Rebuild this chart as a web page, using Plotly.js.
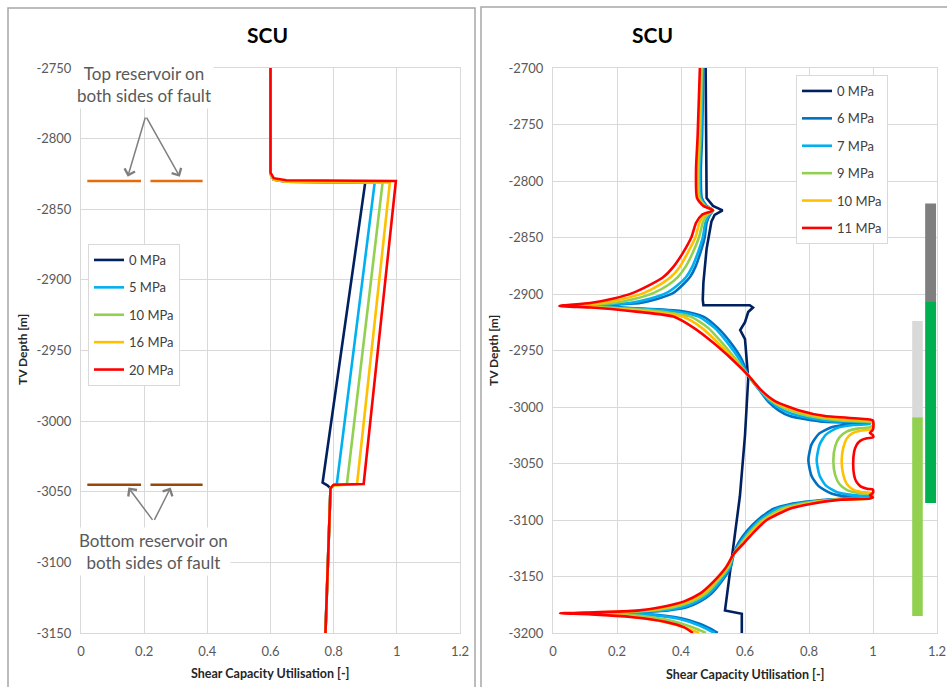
<!DOCTYPE html>
<html>
<head>
<meta charset="utf-8">
<script src="https://cdn.plot.ly/plotly-3.0.1.min.js"></script>
<style>
html,body{margin:0;padding:0;background:#fff;}
#chart{width:947px;height:687px;}
</style>
</head>
<body>
<div id="chart"></div>
<script>
// ---------- LEFT PANEL DATA (x = shear capacity utilisation, d = TV depth) ----------
const leftNames = ['0 MPa', '5 MPa', '10 MPa', '16 MPa', '20 MPa'];
const leftColors = ['#002060', '#00b0f0', '#92d050', '#ffc000', '#ff0000'];
const L0x = [0.6, 0.6, 0.61, 0.65, 0.90, 0.765, 0.78, 0.79, 0.774];
const L0d = [-2750, -2825, -2829, -2830.5, -2831, -3043.5, -3045.5, -3047.5, -3150];
const L5x = [0.6, 0.6, 0.61, 0.65, 0.93, 0.81, 0.80, 0.79, 0.774];
const L5d = [-2750, -2825, -2829, -2830.5, -2831, -3044.5, -3045.5, -3047.5, -3150];
const L10x = [0.6, 0.6, 0.61, 0.65, 0.955, 0.842, 0.80, 0.79, 0.774];
const L10d = [-2750, -2825, -2829, -2830.5, -2831, -3044.5, -3045.5, -3047.5, -3150];
const L16x = [0.6, 0.6, 0.61, 0.65, 0.978, 0.874, 0.80, 0.79, 0.774];
const L16d = [-2750, -2825, -2829, -2830.5, -2831, -3044.5, -3045.5, -3047.5, -3150];
const L20x = [0.6, 0.6, 0.61, 0.65, 0.997, 0.895, 0.80, 0.79, 0.774];
const L20d = [-2750, -2824, -2828, -2829.5, -2830, -3044.5, -3045, -3047.5, -3150];

// reservoir markers (left panel)
const resX = [0.02, 0.19, null, 0.22, 0.385];
const resTopD = [-2830, -2830, null, -2830, -2830];
const resBotD = [-3045, -3045, null, -3045, -3045];

// ---------- RIGHT PANEL DATA ----------
const rightNames = ['0 MPa', '6 MPa', '7 MPa', '9 MPa', '10 MPa', '11 MPa'];
const rightColors = ['#002060', '#0070c0', '#00b0f0', '#92d050', '#ffc000', '#ff0000'];

const R0x = [0.477,0.478,0.480,0.50,0.53,0.505,0.495,0.48,0.47,0.468,0.47,0.615,0.625,0.61,0.60,0.585,0.60,0.61,0.60,0.584,0.56,0.5375,0.59,0.59];
const R0d = [-2700,-2780,-2815,-2822,-2826,-2830,-2836,-2860,-2890,-2905,-2910,-2910,-2912,-2916,-2925,-2932,-2940,-2975,-3025,-3079,-3130,-3180,-3183,-3200];

const R6x = [0.470,0.466,0.462,0.465,0.48,0.50,
  0.49,0.48,0.474,0.46,0.445,0.428,0.405,0.376,0.33,0.272,0.15,
  0.22,0.40,0.47,0.515,0.555,0.59,0.61,0.645,0.672,0.705,0.74,0.845,0.99,
  0.93,0.87,0.83,0.808,0.798,0.808,0.83,0.87,0.93,0.99,
  0.86,0.74,0.69,0.64,0.605,0.58,0.565,0.555,0.525,0.495,0.46,0.42,0.36,0.25,0.2,
  0.30,0.40,0.46,0.49,0.515];
const R6d = [-2700,-2760,-2790,-2815,-2822,-2826,
  -2830,-2837,-2850,-2864,-2876,-2885,-2892,-2899,-2904,-2908,-2910,
  -2912,-2915,-2920,-2930,-2943,-2958,-2972,-2985,-2995,-3003,-3008,-3013,-3014,
  -3015,-3018,-3024,-3033,-3047,-3061,-3070,-3076.5,-3079.5,-3080,
  -3082,-3086,-3090,-3100,-3110,-3120,-3130,-3142,-3155,-3165,-3172,-3177,-3180,-3182,-3182.8,
  -3183.5,-3187,-3192,-3196,-3200];

const R7x = [0.468,0.463,0.458,0.462,0.478,0.50,
  0.488,0.476,0.468,0.452,0.435,0.416,0.39,0.355,0.305,0.24,0.12,
  0.20,0.37,0.455,0.505,0.545,0.583,0.61,0.646,0.678,0.72,0.77,0.87,0.99,
  0.99,0.938,0.886,0.852,0.833,0.824,0.833,0.852,0.886,0.938,0.99,
  0.87,0.755,0.70,0.647,0.612,0.585,0.565,0.552,0.52,0.488,0.45,0.405,0.34,0.22,0.17,
  0.28,0.385,0.445,0.478,0.505];
const R7d = [-2700,-2760,-2790,-2815,-2822,-2826,
  -2830,-2837,-2850,-2864,-2876,-2885,-2892,-2899,-2904,-2908,-2910,
  -2912,-2915,-2920,-2930,-2943,-2958,-2972,-2985,-2995,-3003,-3008,-3012.5,-3013.5,
  -3015,-3016,-3018.8,-3024.6,-3033.4,-3047,-3060.6,-3069.4,-3075.2,-3078,-3079,
  -3082,-3086,-3090,-3100,-3110,-3120,-3130,-3142,-3155,-3165,-3172,-3177,-3180,-3182,-3182.7,
  -3183.5,-3187,-3192,-3196,-3200];

const R9x = [0.465,0.460,0.455,0.458,0.475,0.50,
  0.482,0.468,0.456,0.436,0.414,0.39,0.36,0.315,0.26,0.19,0.08,
  0.17,0.32,0.43,0.485,0.528,0.572,0.61,0.648,0.685,0.74,0.80,0.90,0.99,
  1.0,1.0,
  0.99,0.955,0.919,0.895,0.882,0.876,0.882,0.895,0.919,0.955,0.99,
  1.0,0.99,
  0.88,0.77,0.715,0.655,0.618,0.59,0.565,0.548,0.512,0.478,0.435,0.38,0.31,0.16,0.10,
  0.22,0.34,0.41,0.45,0.478];
const R9d = [-2700,-2760,-2790,-2815,-2822,-2826,
  -2830,-2837,-2850,-2864,-2876,-2885,-2892,-2899,-2904,-2908,-2910,
  -2912,-2915,-2920,-2930,-2943,-2958,-2972,-2985,-2995,-3003,-3008,-3012,-3013,
  -3014,-3016,
  -3018,-3018.9,-3021.5,-3026.9,-3034.6,-3047.5,-3060.4,-3068.1,-3073.5,-3076.1,-3077,
  -3079,-3081,
  -3082,-3086,-3090,-3100,-3110,-3120,-3130,-3142,-3155,-3165,-3172,-3177,-3180,-3182,-3182.6,
  -3183.5,-3187.5,-3192.5,-3196.5,-3200];

const R10x = [0.462,0.456,0.451,0.454,0.472,0.50,
  0.475,0.458,0.445,0.42,0.396,0.368,0.333,0.285,0.225,0.155,0.05,
  0.14,0.28,0.405,0.465,0.515,0.566,0.61,0.649,0.69,0.755,0.825,0.93,0.99,
  1.0,1.0,
  0.99,0.963,0.935,0.917,0.907,0.902,0.907,0.917,0.935,0.963,0.99,
  1.0,0.99,
  0.89,0.785,0.728,0.662,0.624,0.594,0.565,0.544,0.506,0.47,0.422,0.36,0.29,0.13,0.06,
  0.17,0.30,0.38,0.425,0.457];
const R10d = [-2700,-2760,-2790,-2815,-2822,-2826,
  -2830,-2837,-2850,-2864,-2876,-2885,-2892,-2899,-2904,-2908,-2910,
  -2912,-2915,-2920,-2930,-2943,-2958,-2972,-2985,-2995,-3003,-3008,-3011.5,-3012,
  -3014,-3018,
  -3020,-3020.8,-3023.4,-3028.4,-3036.2,-3048,-3059.8,-3067.6,-3072.6,-3075.2,-3076,
  -3078,-3080.5,
  -3082,-3086,-3090,-3100,-3110,-3120,-3130,-3142,-3155,-3165,-3172,-3177,-3180,-3182,-3182.6,
  -3183.5,-3187.5,-3192.5,-3196.5,-3200];

const R11x = [0.459,0.452,0.447,0.450,0.470,0.50,
  0.465,0.447,0.432,0.405,0.376,0.345,0.303,0.25,0.19,0.116,0.02,
  0.12,0.24,0.376,0.44,0.50,0.56,0.61,0.65,0.695,0.77,0.85,0.99,
  1.0,1.0,0.99,1.0,
  1.0,0.981,0.961,0.948,0.941,0.938,0.941,0.948,0.961,0.981,1.0,
  1.0,0.99,1.0,0.99,
  0.90,0.80,0.74,0.668,0.63,0.598,0.565,0.54,0.50,0.46,0.41,0.34,0.27,0.10,0.022,
  0.12,0.25,0.35,0.41,0.4375];
const R11d = [-2700,-2760,-2790,-2815,-2822,-2826,
  -2830,-2837,-2850,-2864,-2876,-2885,-2892,-2899,-2904,-2908,-2910.5,
  -2912,-2915,-2920,-2930,-2943,-2958,-2972,-2985,-2995,-3003,-3008,-3011,
  -3012,-3020,-3023,-3025,
  -3027,-3027.7,-3029.8,-3033.9,-3039.7,-3050,-3060.3,-3066.1,-3070.2,-3072.3,-3073,
  -3076,-3078,-3080,-3081,
  -3082,-3086,-3090,-3100,-3110,-3120,-3130,-3142,-3155,-3165,-3172,-3177,-3180,-3182,-3182.6,
  -3183.5,-3186,-3190,-3195,-3200];

// coloured interval bars on the right
const barX = [1.18, 1.18, 1.139, 1.139];
const barTop = [-2820, -2907, -2924, -3009];
const barBottom = [-2907, -3085, -3009, -3185];
const barColor = ['#7f7f7f', '#00b050', '#d9d9d9', '#92d050'];
const barWidth = [0.034, 0.034, 0.033, 0.033];

// tick labels
const xTickVals = [0, 0.2, 0.4, 0.6, 0.8, 1, 1.2];
const xTickText = ['0', '0.2', '0.4', '0.6', '0.8', '1', '1.2'];
const leftYTicks = [-2750, -2800, -2850, -2900, -2950, -3000, -3050, -3100, -3150];
const leftYText = ['-2750', '-2800', '-2850', '-2900', '-2950', '-3000', '-3050', '-3100', '-3150'];
const rightYTicks = [-2700, -2750, -2800, -2850, -2900, -2950, -3000, -3050, -3100, -3150, -3200];
const rightYText = ['-2700', '-2750', '-2800', '-2850', '-2900', '-2950', '-3000', '-3050', '-3100', '-3150', '-3200'];

// ---------- BUILD TRACES ----------
const leftX = [L0x, L5x, L10x, L16x, L20x];
const leftD = [L0d, L5d, L10d, L16d, L20d];
const rightX = [R0x, R6x, R7x, R9x, R10x, R11x];
const rightD = [R0d, R6d, R7d, R9d, R10d, R11d];

const traces = [];
traces.push({x: resX, y: resTopD, type: 'scatter', mode: 'lines', xaxis: 'x', yaxis: 'y',
  line: {color: '#e46c0a', width: 2.5}, showlegend: false, hoverinfo: 'skip'});
traces.push({x: resX, y: resBotD, type: 'scatter', mode: 'lines', xaxis: 'x', yaxis: 'y',
  line: {color: '#984807', width: 2.5}, showlegend: false, hoverinfo: 'skip'});

leftNames.forEach((n, i) => {
  traces.push({x: leftX[i], y: leftD[i], name: n, type: 'scatter', mode: 'lines',
    xaxis: 'x', yaxis: 'y', legend: 'legend', legendgroup: 'L' + i,
    line: {color: leftColors[i], width: 2.6}});
});

barX.forEach((bx, i) => {
  traces.push({x: [bx], base: [barBottom[i]], y: [barTop[i] - barBottom[i]], width: [barWidth[i]],
    type: 'bar', xaxis: 'x2', yaxis: 'y2', marker: {color: barColor[i], line: {width: 0}},
    showlegend: false, hoverinfo: 'skip'});
});

rightNames.forEach((n, i) => {
  traces.push({x: rightX[i], y: rightD[i], name: n, type: 'scatter', mode: 'lines',
    xaxis: 'x2', yaxis: 'y2', legend: 'legend2', legendgroup: 'R' + i,
    line: {color: rightColors[i], width: 2.6, shape: i === 0 ? 'linear' : 'spline', smoothing: 0.6}});
});

// ---------- LAYOUT ----------
const W = 947, H = 687;
const px = v => v / W;
const py = v => 1 - v / H;
const tickFont = {family: 'Lato, sans-serif', size: 13, color: '#595959'};
const axisCommon = {
  showgrid: true, gridcolor: '#d9d9d9', gridwidth: 1, zeroline: false,
  showline: true, linecolor: '#d9d9d9', linewidth: 1, mirror: true,
  ticks: '', tickfont: tickFont, fixedrange: true
};
const legendFont = {family: 'Lato, sans-serif', size: 13, color: '#404040'};

const layout = {
  width: W, height: H,
  margin: {l: 0, r: 0, t: 0, b: 0},
  paper_bgcolor: '#ffffff', plot_bgcolor: '#ffffff',
  barmode: 'overlay',
  xaxis: Object.assign({}, axisCommon, {domain: [px(81), px(460)], range: [0, 1.2],
    tickvals: xTickVals, ticktext: xTickText, anchor: 'y', ticklabelstandoff: 6}),
  yaxis: Object.assign({}, axisCommon, {domain: [py(633), py(68)], range: [-3150, -2750],
    tickvals: leftYTicks, ticktext: leftYText, anchor: 'x', ticklabelstandoff: 6}),
  xaxis2: Object.assign({}, axisCommon, {domain: [px(553), px(937)], range: [0, 1.2],
    tickvals: xTickVals, ticktext: xTickText, anchor: 'y2', ticklabelstandoff: 6}),
  yaxis2: Object.assign({}, axisCommon, {domain: [py(633), py(68)], range: [-3200, -2700],
    tickvals: rightYTicks, ticktext: rightYText, anchor: 'x2', ticklabelstandoff: 6}),
  legend: {x: px(88), y: py(244), xanchor: 'left', yanchor: 'top',
    bgcolor: '#ffffff', bordercolor: '#d9d9d9', borderwidth: 1,
    font: legendFont, tracegroupgap: 7.5, traceorder: 'grouped'},
  legend2: {x: px(796), y: py(75), xanchor: 'left', yanchor: 'top',
    bgcolor: '#ffffff', bordercolor: '#d9d9d9', borderwidth: 1,
    font: legendFont, tracegroupgap: 7.5, traceorder: 'grouped'},
  shapes: [
    {type: 'rect', xref: 'paper', yref: 'paper', x0: px(8), x1: px(475), y0: -0.02, y1: py(8),
      line: {color: '#a6a6a6', width: 1.5}, fillcolor: 'rgba(0,0,0,0)', layer: 'above'},
    {type: 'rect', xref: 'paper', yref: 'paper', x0: px(481), x1: 1.02, y0: -0.02, y1: py(7),
      line: {color: '#a6a6a6', width: 1.5}, fillcolor: 'rgba(0,0,0,0)', layer: 'above'}
  ],
  annotations: [
    {text: '<b>SCU</b>', xref: 'paper', yref: 'paper', x: px(267), y: py(35), xanchor: 'center', yanchor: 'middle',
      showarrow: false, font: {family: 'Lato, sans-serif', size: 21, color: '#000000'}},
    {text: '<b>SCU</b>', xref: 'paper', yref: 'paper', x: px(652), y: py(35), xanchor: 'center', yanchor: 'middle',
      showarrow: false, font: {family: 'Lato, sans-serif', size: 21, color: '#000000'}},
    {text: '<b>Shear Capacity Utilisation [-]</b>', xref: 'paper', yref: 'paper', x: px(270), y: py(673),
      xanchor: 'center', yanchor: 'middle',
      showarrow: false, font: {family: 'Lato, sans-serif', size: 12.5, color: '#262626'}},
    {text: '<b>Shear Capacity Utilisation [-]</b>', xref: 'paper', yref: 'paper', x: px(745), y: py(674),
      xanchor: 'center', yanchor: 'middle',
      showarrow: false, font: {family: 'Lato, sans-serif', size: 12.5, color: '#262626'}},
    {text: '<b>TV Depth [m]</b>', xref: 'paper', yref: 'paper', x: px(22), y: py(350), textangle: -90,
      xanchor: 'center', yanchor: 'middle',
      showarrow: false, font: {family: 'Lato, sans-serif', size: 12, color: '#262626'}},
    {text: '<b>TV Depth [m]</b>', xref: 'paper', yref: 'paper', x: px(493), y: py(350), textangle: -90,
      xanchor: 'center', yanchor: 'middle',
      showarrow: false, font: {family: 'Lato, sans-serif', size: 12, color: '#262626'}},
    {text: 'Top reservoir on<br>both sides of fault', xref: 'x', yref: 'y', x: 0.199, y: -2762,
      xanchor: 'center', yanchor: 'middle',
      showarrow: false, bgcolor: '#ffffff', borderpad: 2,
      font: {family: 'Lato, sans-serif', size: 17, color: '#595959'}},
    {text: '', xref: 'x', yref: 'y', x: 0.148, y: -2827, axref: 'x', ayref: 'y', ax: 0.205, ay: -2784,
      showarrow: true, arrowhead: 4, arrowsize: 1.4, arrowwidth: 1.5, arrowcolor: '#7f7f7f'},
    {text: '', xref: 'x', yref: 'y', x: 0.313, y: -2827, axref: 'x', ayref: 'y', ax: 0.205, ay: -2784,
      showarrow: true, arrowhead: 4, arrowsize: 1.4, arrowwidth: 1.5, arrowcolor: '#7f7f7f'},
    {text: 'Bottom reservoir on<br>both sides of fault', xref: 'x', yref: 'y', x: 0.23, y: -3092,
      xanchor: 'center', yanchor: 'middle',
      showarrow: false, bgcolor: '#ffffff', borderpad: 2,
      font: {family: 'Lato, sans-serif', size: 17, color: '#595959'}},
    {text: '', xref: 'x', yref: 'y', x: 0.15, y: -3047, axref: 'x', ayref: 'y', ax: 0.23, ay: -3071,
      showarrow: true, arrowhead: 4, arrowsize: 1.4, arrowwidth: 1.5, arrowcolor: '#7f7f7f'},
    {text: '', xref: 'x', yref: 'y', x: 0.284, y: -3047, axref: 'x', ayref: 'y', ax: 0.23, ay: -3071,
      showarrow: true, arrowhead: 4, arrowsize: 1.4, arrowwidth: 1.5, arrowcolor: '#7f7f7f'}
  ]
};

Plotly.newPlot('chart', traces, layout, {displayModeBar: false, staticPlot: true});
</script>
</body>
</html>
